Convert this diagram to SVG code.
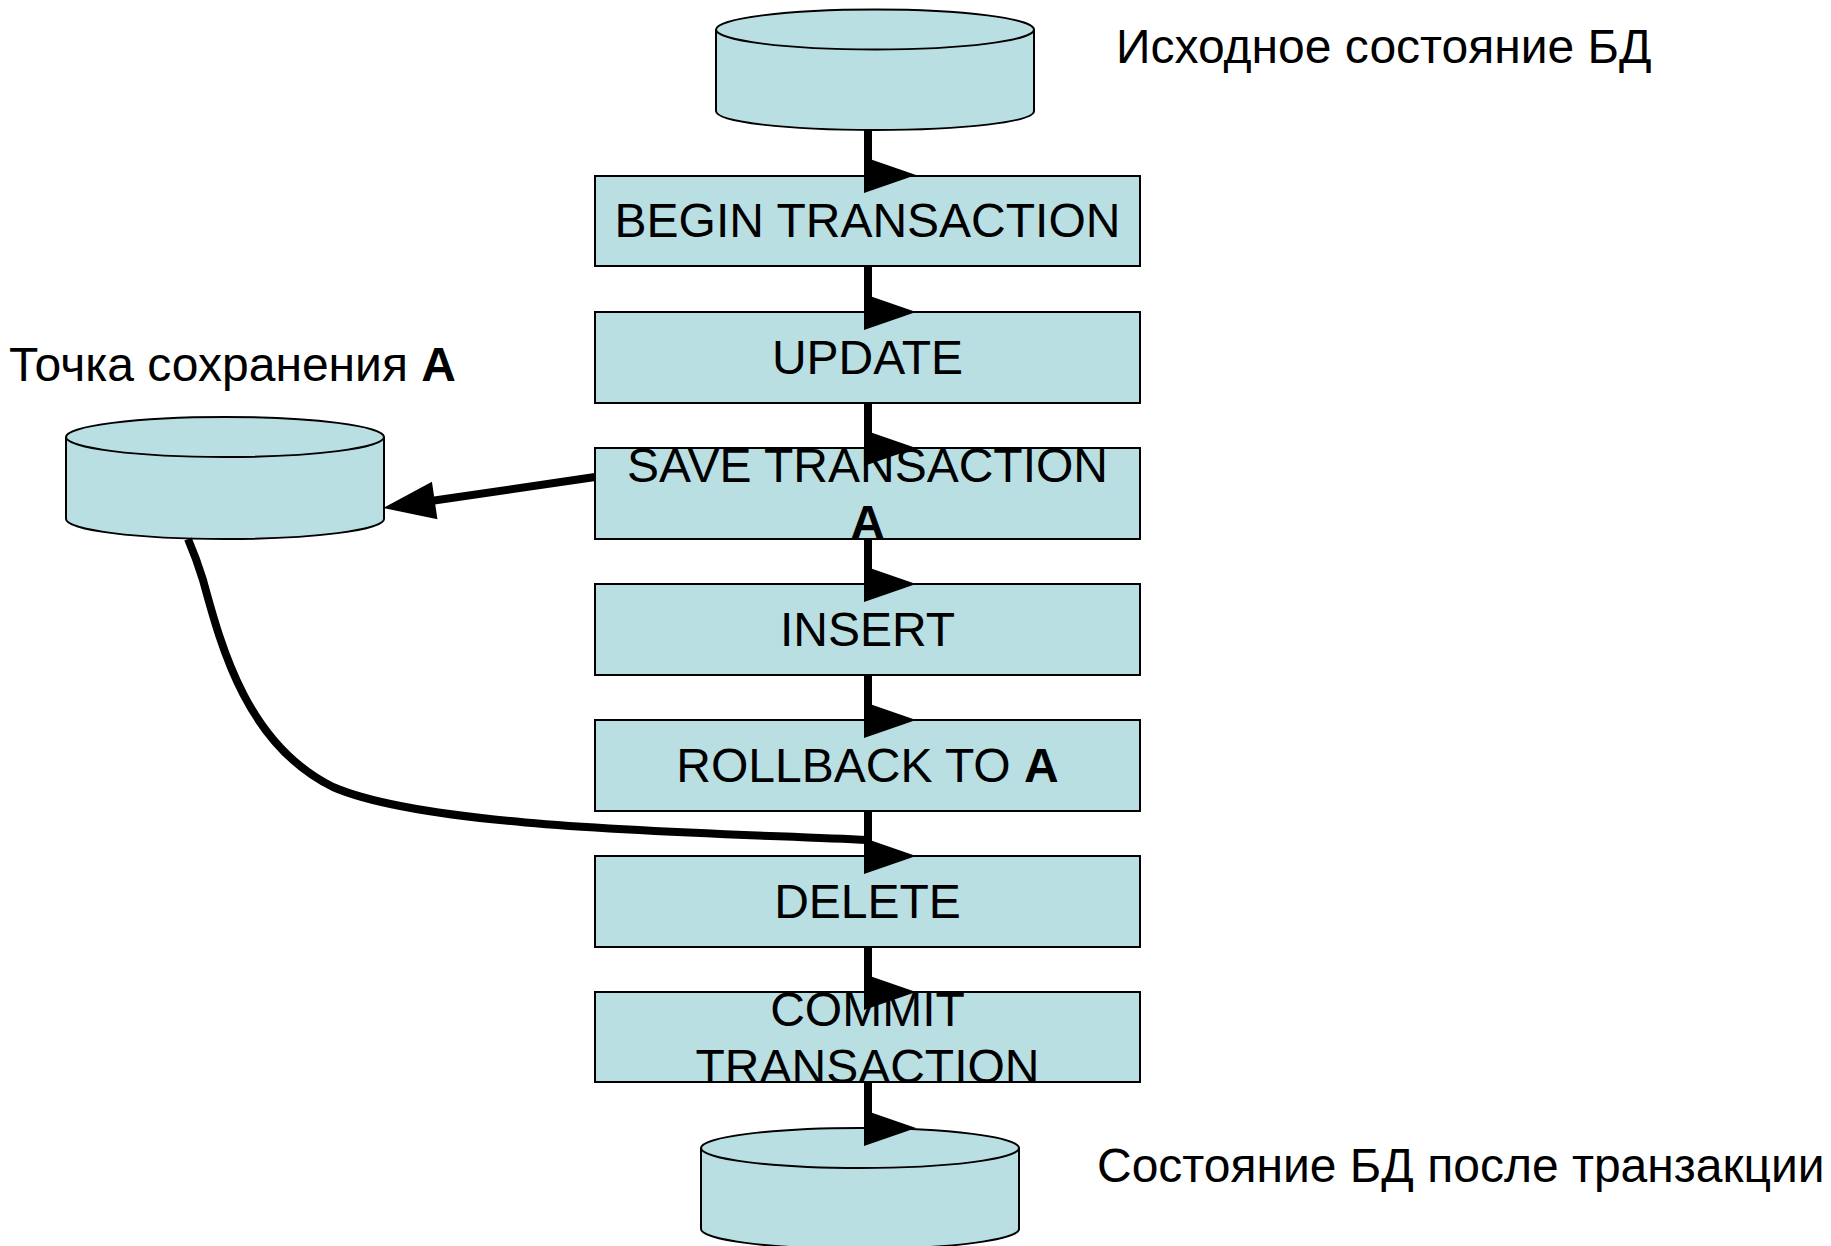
<svg xmlns="http://www.w3.org/2000/svg" width="1831" height="1246" viewBox="0 0 1831 1246">
<style>
.s{fill:#b9dfe3;stroke:#000;stroke-width:2}
.t{font-family:"Liberation Sans",Arial,sans-serif;font-size:48px;fill:#000}
.m{text-anchor:middle}
.b{font-weight:bold}
.c{fill:none;stroke:#000;stroke-width:8}
.v{marker-end:url(#hd)}
</style>
<defs>
<marker id="hd" markerUnits="userSpaceOnUse" markerWidth="52" markerHeight="38" refX="4" refY="18" orient="0" overflow="visible"><path d="M0 0L52 18L0 36Z" fill="#000"/></marker>
<marker id="hl" markerUnits="userSpaceOnUse" markerWidth="52" markerHeight="38" refX="30" refY="19" orient="auto" overflow="visible"><path d="M0 0L52 19L0 38Z" fill="#000"/></marker>
</defs>
<g id="db-start"><path class="s" d="M716 29.500V111C716 122 787 130 875 130S1034 122 1034 111V29.500C1034 18.500 963 9.500 875 9.500S716 18.500 716 29.500C716 40.500 787 49.500 875 49.500S1034 40.500 1034 29.500"/></g>
<g id="label-start"><text class="t" x="1116" y="63">Исходное состояние БД</text></g>
<g id="begin"><rect class="s" x="595" y="176" width="545" height="90"/><text class="t m" x="867.500" y="237">BEGIN TRANSACTION</text></g>
<g id="update"><rect class="s" x="595" y="312" width="545" height="91"/><text class="t m" x="867.500" y="374">UPDATE</text></g>
<g id="save"><rect class="s" x="595" y="448" width="545" height="91"/><text class="t m" x="867.500" y="482">SAVE TRANSACTION</text><text class="t m b" x="867.500" y="539">A</text></g>
<g id="insert"><rect class="s" x="595" y="584" width="545" height="91"/><text class="t m" x="867.500" y="646">INSERT</text></g>
<g id="rollback"><rect class="s" x="595" y="720" width="545" height="91"/><text class="t m" x="867.500" y="782">ROLLBACK TO <tspan class="b">A</tspan></text></g>
<g id="delete"><rect class="s" x="595" y="856" width="545" height="91"/><text class="t m" x="867.500" y="918">DELETE</text></g>
<g id="commit"><rect class="s" x="595" y="992" width="545" height="90"/><text class="t m" x="867.500" y="1026">COMMIT</text><text class="t m" x="867.500" y="1083">TRANSACTION</text></g>
<g id="db-save"><path class="s" d="M66 437V519C66 530 137 539 225 539S384 530 384 519V437C384 426 313 417 225 417S66 426 66 437C66 448 137 457 225 457S384 448 384 437"/></g>
<g id="label-save"><text class="t" x="9" y="381">Точка сохранения <tspan class="b">A</tspan></text></g>
<g id="db-end"><path class="s" d="M701 1148V1229C701 1240 772 1249 860 1249S1019 1240 1019 1229V1148C1019 1137 948 1128 860 1128S701 1137 701 1148C701 1159 772 1168 860 1168S1019 1159 1019 1148"/></g>
<g id="label-end"><text class="t" x="1097" y="1182">Состояние БД после транзакции</text></g>
<g id="connectors">
<path class="c v" d="M868 130V175"/>
<path class="c v" d="M868 266V312"/>
<path class="c v" d="M868 403V448"/>
<path class="c v" d="M868 539V584"/>
<path class="c v" d="M868 675V720"/>
<path class="c v" d="M868 811V856"/>
<path class="c v" d="M868 947V992"/>
<path class="c v" d="M868 1083V1128"/>
<path class="c" d="M595 477L405 504.800" style="marker-end:url(#hl)"/>
<path class="c" d="M188 539C194 553 199 567 203 580C222 650 248 745 333 787C430 829 700 832 868 840"/>
</g>
</svg>
